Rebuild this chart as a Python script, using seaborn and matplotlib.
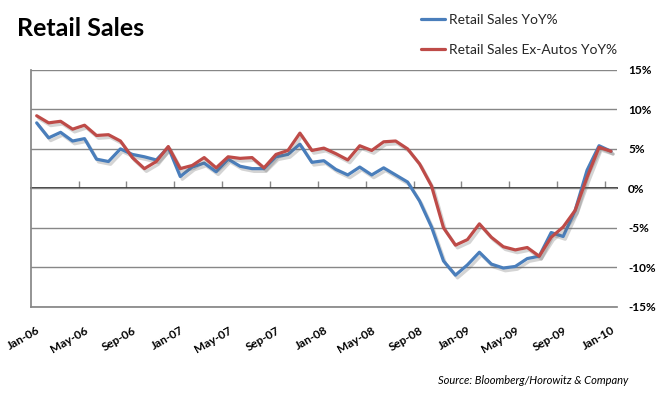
import matplotlib
matplotlib.use("Agg")
import matplotlib.pyplot as plt
import matplotlib.patheffects as pe
from matplotlib.lines import Line2D
import seaborn as sns
import pandas as pd
import numpy as np

months = pd.date_range("2006-01-01", "2010-01-01", freq="MS").strftime("%b-%y").tolist()

retail_yoy = [8.3, 6.4, 7.1, 6.0, 6.3, 3.7, 3.4, 5.0, 4.3, 4.0, 3.6, 5.2,
              1.5, 2.7, 3.2, 2.1, 3.7, 2.8, 2.5, 2.5, 4.0, 4.3, 5.6, 3.3,
              3.5, 2.4, 1.7, 2.7, 1.7, 2.6, 1.7, 0.8, -1.6, -4.9, -9.2, -11.0,
              -9.7, -8.1, -9.6, -10.1, -9.9, -8.9, -8.6, -5.6, -6.1, -2.8, 2.3, 5.4,
              4.7]
ex_autos_yoy = [9.2, 8.3, 8.5, 7.5, 8.0, 6.7, 6.8, 6.0, 3.9, 2.5, 3.4, 5.3,
                2.5, 2.9, 3.9, 2.6, 4.0, 3.8, 3.9, 2.6, 4.3, 4.8, 7.0, 4.8,
                5.1, 4.4, 3.6, 5.4, 4.8, 5.9, 6.0, 5.0, 3.1, 0.3, -5.0, -7.2,
                -6.5, -4.5, -6.2, -7.4, -7.8, -7.5, -8.6, -6.2, -4.9, -2.8, 1.4, 5.2,
                4.7]
series_names = ["Retail Sales YoY%", "Retail Sales Ex-Autos YoY%"]
series_colors = ["#4A7EBB", "#BE4B48"]
y_ticks = [-15, -10, -5, 0, 5, 10, 15]

sns.set_theme(style="white")
plt.rcParams["font.family"] = ["Lato", "DejaVu Sans"]

df = pd.DataFrame({
    "idx": list(range(len(months))) * 2,
    "value": retail_yoy + ex_autos_yoy,
    "series": [series_names[0]] * len(months) + [series_names[1]] * len(months),
})

fig = plt.figure(figsize=(6.65, 3.97), dpi=100)
ax = fig.add_axes([30.7 / 665, 1 - 306.7 / 397, (617 - 30.7) / 665, (306.7 - 70) / 397])

shadow = [pe.SimpleLineShadow(offset=(1.5, -2), shadow_color="#666666", alpha=0.28, rho=0.6), pe.Normal()]
sns.lineplot(data=df, x="idx", y="value", hue="series", palette=series_colors,
             hue_order=series_names, linewidth=2.3, ax=ax, legend=False, zorder=3)
for ln in ax.lines:
    ln.set_path_effects(shadow)
    ln.set_solid_joinstyle("round")

ax.set_xlim(-0.5, len(months) - 0.5)
ax.set_ylim(-15, 15)
ax.set_yticks(y_ticks)
ax.set_yticklabels([f"{v}%" for v in y_ticks])
ax.yaxis.tick_right()
ax.tick_params(axis="y", length=0, pad=8, labelsize=8.5, labelcolor="black")
for t in ax.get_yticklabels():
    t.set_fontweight("bold")
ax.grid(axis="y", color="#878787", linewidth=1.0)
ax.grid(axis="x", visible=False)

label_pos = list(range(0, len(months), 4))
ax.set_xticks(label_pos)
ax.set_xticklabels([months[i] for i in label_pos], rotation=30, ha="right", va="top",
                   rotation_mode="anchor", fontsize=8.5, fontweight="bold", color="black")
ax.tick_params(axis="x", length=0, pad=13)
ax.set_xlabel("")
ax.set_ylabel("")

for s in ["top", "right"]:
    ax.spines[s].set_visible(False)
ax.spines["left"].set_color("#878787")
ax.spines["bottom"].set_color("#878787")

# tick marks on the zero line
sec = ax.secondary_xaxis(0.5)
sec.set_xticks([b - 0.5 for b in range(4, len(months), 4)])
sec.set_xticklabels([])
sec.tick_params(axis="x", direction="out", length=5, color="#878787", width=1)
sec.spines["bottom"].set_visible(False)

fig.text(17 / 665, 1 - 29 / 397, "Retail Sales", fontsize=18, fontweight="bold",
         va="center", ha="left", color="black")

handles = [Line2D([0], [0], color=c, lw=2.3) for c in series_colors]
fig.legend(handles, series_names, loc="upper left", bbox_to_anchor=(414 / 665, 1 - 7 / 397),
           bbox_transform=fig.transFigure, frameon=False, fontsize=10, borderpad=0,
           labelspacing=1.3, handlelength=1.7, handletextpad=0.3)

fig.text(628 / 665, 1 - 381 / 397, "Source: Bloomberg/Horowitz & Company", fontsize=8,
         style="italic", ha="right", va="center", color="black")

fig.savefig("out.png", dpi=100)
